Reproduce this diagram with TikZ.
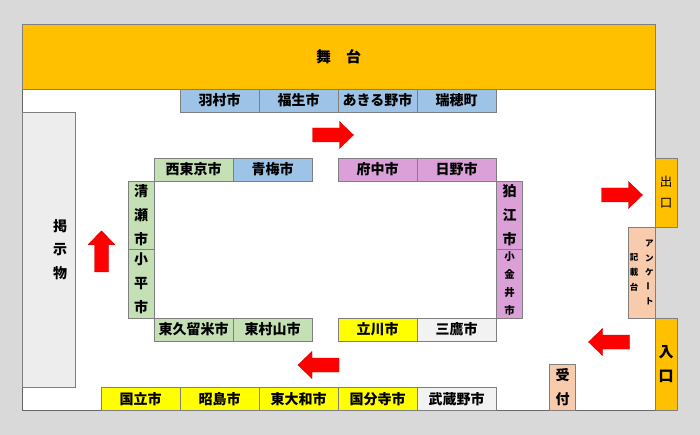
\documentclass[tikz,border=0pt]{standalone}
\usepackage{fontspec}
\setmainfont{Noto Sans CJK JP}
\usepackage{xcolor}

\definecolor{wall}{HTML}{D9D9D9}
\definecolor{stageorange}{HTML}{FFC000}
\definecolor{cityblue}{HTML}{9DC3E6}
\definecolor{citygreen}{HTML}{C5E0B4}
\definecolor{citypurple}{HTML}{DAA0D7}
\definecolor{cityyellow}{HTML}{FFFF00}
\definecolor{citypale}{HTML}{F2F2F2}
\definecolor{boardgray}{HTML}{EDEDED}
\definecolor{peach}{HTML}{F8CBAD}
\definecolor{edge}{HTML}{7F7F7F}

\tikzset{
  cell/.style={draw=edge, line width=0.7pt, minimum width=79pt, minimum height=23pt, inner sep=0pt, font=\bfseries\fontsize{14}{14}\selectfont},
  vcell/.style={cell, minimum width=26pt, minimum height=68.5pt, align=center, font=\bfseries\fontsize{14}{24}\selectfont},
  vtext/.style={align=center, inner sep=0pt},
  flow/.pic={\fill[red, draw=red!80!black, line width=0.4pt] (-20.5,-7) -- (6.5,-7) -- (6.5,-13.5) -- (20.5,0) -- (6.5,13.5) -- (6.5,7) -- (-20.5,7) -- cycle;}
}

\begin{document}
\begin{tikzpicture}[x=1pt,y=-1pt]
				\fill[wall] (0,0) rectangle (700,435);
				\useasboundingbox (0,0) rectangle (700,435);
				\draw[draw=edge!80!black, fill=white, line width=0.9pt] (22,24) rectangle (655,410);

				\node(stage) at (338.5,56.5)[cell,fill=stageorange,minimum width=633pt,minimum height=65pt,font=\bfseries\fontsize{15}{15}\selectfont]{舞　台};

				\node(hamura) at (219.5,100.5)[cell,fill=cityblue]{羽村市};
				\node(fussa) at (298.5,100.5)[cell,fill=cityblue]{福生市};
				\node(akiruno) at (377.5,100.5)[cell,fill=cityblue]{あきる野市};
				\node(mizuho) at (456.5,100.5)[cell,fill=cityblue]{瑞穂町};

				\node(nishitokyo) at (193.5,169.5)[cell,fill=citygreen]{西東京市};
				\node(ome) at (272.5,169.5)[cell,fill=cityblue]{青梅市};
				\node(fuchu) at (377.5,169.5)[cell,fill=citypurple]{府中市};
				\node(hino) at (456.5,169.5)[cell,fill=citypurple]{日野市};

				\node(kiyose) at (141,215.25)[vcell,fill=citygreen]{清\\瀬\\市};
				\node(kodaira) at (141,283.75)[vcell,fill=citygreen]{小\\平\\市};
				\node(komae) at (509.5,215.25)[vcell,fill=citypurple]{狛\\江\\市};
				\node(koganei) at (509.5,283.75)[vcell,fill=citypurple,font=\bfseries\fontsize{10.5}{18}\selectfont]{小\\金\\井\\市};

				\node(higashikurume) at (193.5,329.5)[cell,fill=citygreen]{東久留米市};
				\node(higashimurayama) at (272.5,329.5)[cell,fill=citygreen]{東村山市};
				\node(tachikawa) at (377.5,329.5)[cell,fill=cityyellow]{立川市};
				\node(mitaka) at (456.5,329.5)[cell,fill=citypale]{三鷹市};

				\node(kunitachi) at (140.5,398.75)[cell,fill=cityyellow,minimum height=22.5pt]{国立市};
				\node(akishima) at (219.5,398.75)[cell,fill=cityyellow,minimum height=22.5pt]{昭島市};
				\node(higashiyamato) at (298.5,398.75)[cell,fill=cityyellow,minimum height=22.5pt]{東大和市};
				\node(kokubunji) at (377.5,398.75)[cell,fill=cityyellow,minimum height=22.5pt]{国分寺市};
				\node(musashino) at (456.5,398.75)[cell,fill=citypale,minimum height=22.5pt]{武蔵野市};

				\node(board) at (48.5,249.5)[cell,fill=boardgray,minimum width=53pt,minimum height=275pt]{};
				\node(boardtext) at ([xshift=11.5pt]board.center)[vtext,font=\bfseries\fontsize{14}{23.5}\selectfont]{掲\\示\\物};

				\node(exit) at (666,192.5)[cell,fill=stageorange,minimum width=22pt,minimum height=69pt,align=center,font=\fontsize{12.5}{21}\selectfont]{出\\口};
				\node(entrance) at (666,364)[cell,fill=stageorange,minimum width=22pt,minimum height=92pt,align=center,font=\bfseries\fontsize{15}{24}\selectfont]{入\\口};
				\node(survey) at (641.8,272.5)[cell,fill=peach,minimum width=26.3pt,minimum height=91pt]{};
				\node(surveyright) at (649.3,272.5)[vtext,font=\bfseries\fontsize{8.5}{14.5}\selectfont]{ア\\ン\\ケ\\\rotatebox{90}{ー}\\ト};
				\node(surveyleft) at (634,272)[vtext,font=\bfseries\fontsize{8.5}{15}\selectfont]{記\\載\\台};
				\node(reception) at (562.7,387.25)[cell,fill=peach,minimum width=26pt,minimum height=45.5pt,align=center,font=\bfseries\fontsize{14}{24}\selectfont]{受\\付};

				\pic at (333,135) {flow};
				\pic at (622,195) {flow};
				\pic[rotate=90] at (101.5,251.3) {flow};
				\pic[rotate=180] at (318.5,365) {flow};
				\pic[rotate=180] at (609,342) {flow};

			\end{tikzpicture}
\end{document}
